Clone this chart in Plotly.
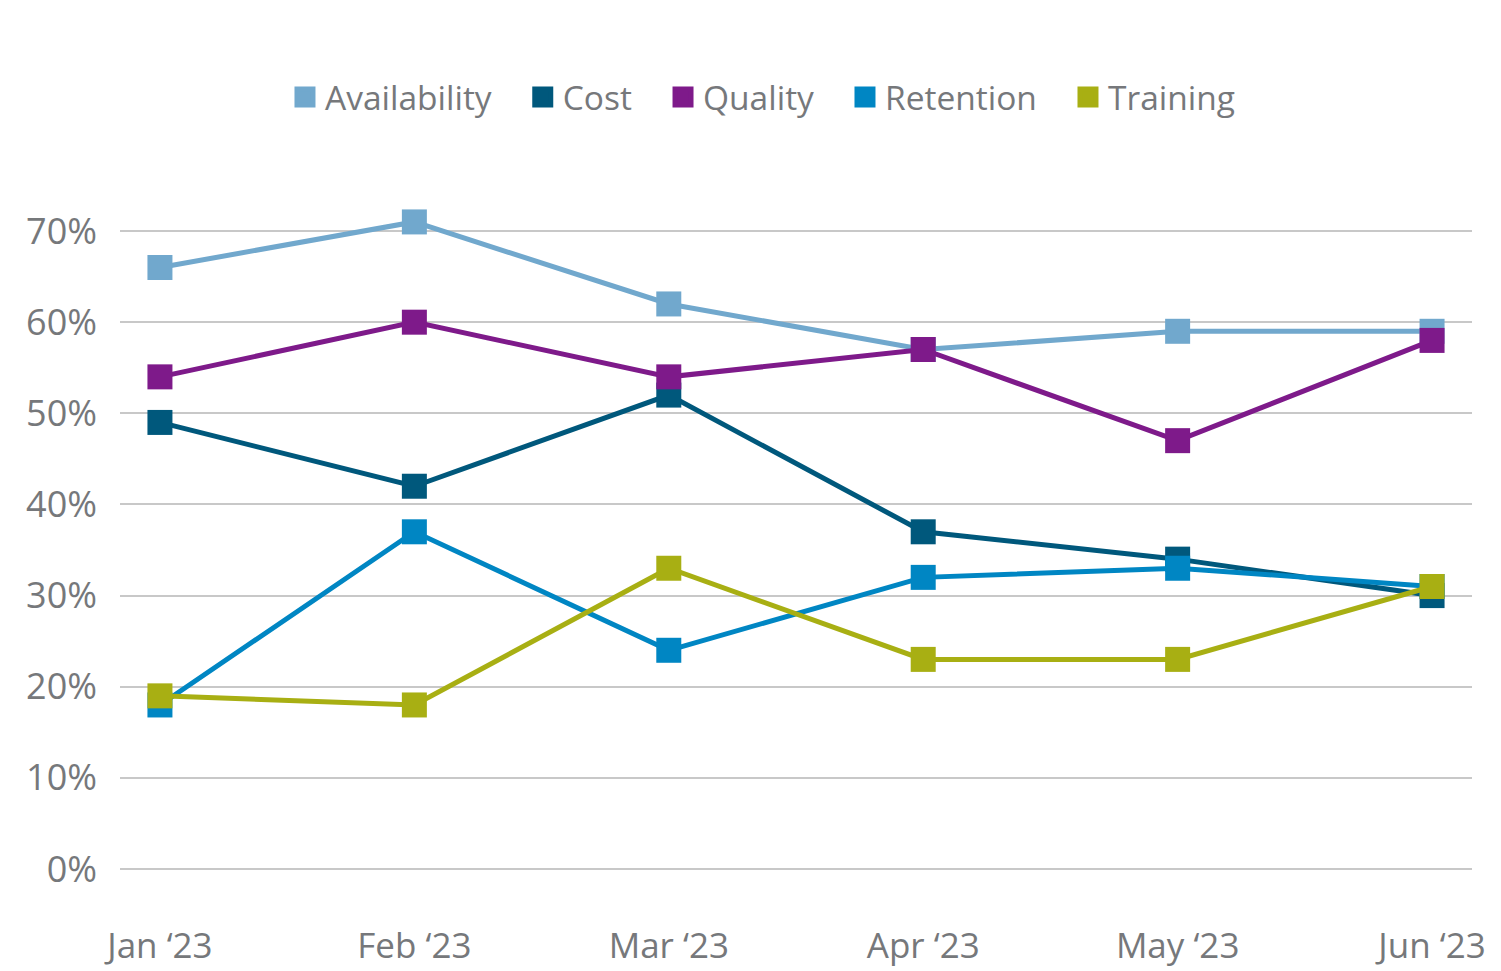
import plotly.graph_objects as go

months = ["Jan ‘23", "Feb ‘23", "Mar ‘23", "Apr ‘23", "May ‘23", "Jun ‘23"]

availability = [0.66, 0.71, 0.62, 0.57, 0.59, 0.59]
cost = [0.49, 0.42, 0.52, 0.37, 0.34, 0.30]
quality = [0.54, 0.60, 0.54, 0.57, 0.47, 0.58]
retention = [0.18, 0.37, 0.24, 0.32, 0.33, 0.31]
training = [0.19, 0.18, 0.33, 0.23, 0.23, 0.31]

series = [
    ("Availability", availability, "#71a8cd"),
    ("Cost", cost, "#00587c"),
    ("Quality", quality, "#7e1a8a"),
    ("Retention", retention, "#0086c3"),
    ("Training", training, "#a8af13"),
]

font_name = "Open Sans"
grey = "#76787b"
pad = "\u00a0" * 3  # extra room between legend entries

fig = go.Figure()
for name, vals, col in series:
    fig.add_trace(go.Scatter(
        x=months, y=vals, name=name, mode="lines+markers",
        line=dict(color=col, width=5),
        marker=dict(symbol="square", size=25, color=col),
        showlegend=False,
        hovertemplate="%{x}: %{y:.0%}<extra>" + name + "</extra>"))
    # legend-only entry so the key shows just a square
    fig.add_trace(go.Scatter(
        x=[None], y=[None], name=name + pad, mode="markers",
        marker=dict(symbol="square", size=24, color=col,
                    line=dict(color=col, width=5)),
        hoverinfo="skip"))

fig.update_layout(
    width=1501, height=971,
    paper_bgcolor="white", plot_bgcolor="white",
    font=dict(family=font_name, color=grey, size=32),
    margin=dict(l=112, r=37, t=172, b=79, autoexpand=False),
    legend=dict(orientation="h", x=0.4852, xanchor="center",
                y=1.115, yanchor="middle", font=dict(size=33.5),
                tracegroupgap=0),
)
fig.update_xaxes(range=[-0.157, 5.157], showgrid=False, showline=False,
                 ticks="", tickangle=0, tickfont=dict(size=35), ticklabelstandoff=22)
fig.update_yaxes(range=[-0.034, 0.756], tickvals=[0, 0.1, 0.2, 0.3, 0.4, 0.5, 0.6, 0.7],
                 tickformat=".0%", showgrid=True, gridcolor="#c8c8c8", gridwidth=1.5,
                 zeroline=False, showline=False, ticks="", tickfont=dict(size=36),
                 ticklabelstandoff=22)

fig.write_html("out.html")
